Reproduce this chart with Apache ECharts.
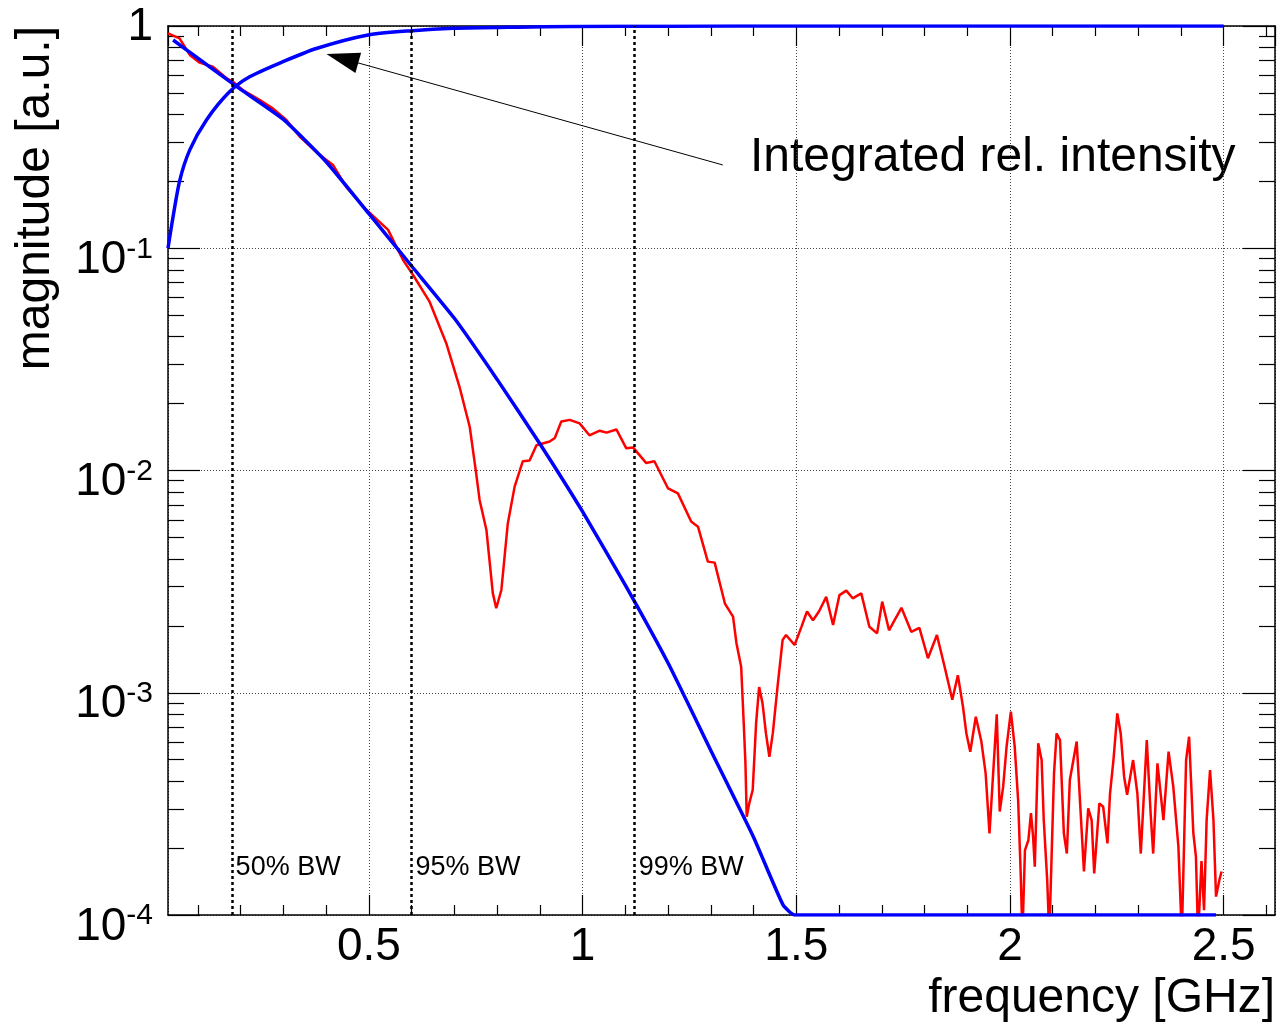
<!DOCTYPE html>
<html>
<head>
<meta charset="utf-8">
<script src="https://cdn.jsdelivr.net/npm/echarts@6/dist/echarts.min.js"></script>
<style>
  html, body { margin: 0; padding: 0; background: #fff; }
  #chart { width: 1280px; height: 1025px; }
</style>
</head>
<body>
<div id="chart"></div>
<script>
// measured spectrum [GHz, a.u.]
const spectrum = [
  [0.030,0.927],[0.057,0.880],[0.081,0.741],[0.104,0.684],[0.135,0.656],[0.167,0.582],[0.182,0.562],
  [0.205,0.515],[0.244,0.465],[0.276,0.425],[0.307,0.378],[0.338,0.318],[0.381,0.267],[0.416,0.237],
  [0.447,0.189],[0.494,0.149],[0.545,0.121],[0.564,0.102],[0.580,0.0885],[0.603,0.0760],[0.642,0.0575],
  [0.681,0.0374],[0.712,0.0238],[0.736,0.0157],[0.751,0.0097],[0.759,0.00737],[0.775,0.0054],[0.790,0.0028],
  [0.798,0.0024],[0.810,0.0029],[0.825,0.00578],[0.841,0.00846],[0.860,0.0110],[0.876,0.0111],[0.892,0.0130],
  [0.923,0.0135],[0.935,0.0140],[0.950,0.0166],[0.970,0.0169],[0.993,0.0163],[1.016,0.0144],[1.040,0.0151],
  [1.056,0.0148],[1.079,0.0153],[1.102,0.0126],[1.118,0.0127],[1.149,0.0108],[1.168,0.0110],[1.200,0.0083],
  [1.223,0.00789],[1.254,0.00589],[1.270,0.00559],[1.293,0.00389],[1.309,0.00385],[1.333,0.00252],
  [1.352,0.00220],[1.360,0.00167],[1.371,0.00131],[1.377,0.00073],[1.381,0.000481],[1.384,0.000277],
  [1.390,0.000318],[1.398,0.000365],[1.406,0.00073],[1.413,0.00106],[1.421,0.000896],[1.429,0.000656],
  [1.437,0.000515],[1.445,0.000656],[1.456,0.00106],[1.468,0.00173],[1.476,0.00182],[1.496,0.00164],
  [1.512,0.00198],[1.525,0.00232],[1.539,0.00212],[1.553,0.00232],[1.570,0.0027],[1.586,0.00202],
  [1.601,0.00275],[1.617,0.00288],[1.632,0.00266],[1.652,0.0028],[1.671,0.00198],[1.689,0.00185],
  [1.701,0.00257],[1.717,0.00191],[1.730,0.00212],[1.746,0.00241],[1.769,0.00188],[1.788,0.00196],
  [1.808,0.00143],[1.829,0.00182],[1.847,0.00131],[1.865,0.00093],[1.878,0.0012],[1.890,0.000865],
  [1.898,0.000656],[1.907,0.000543],[1.920,0.00078],[1.933,0.000603],[1.943,0.000434],[1.952,0.000233],
  [1.969,0.00080],[1.976,0.000292],[1.984,0.000378],[1.992,0.000572],[2.002,0.000822],[2.011,0.000572],
  [2.019,0.000329],[2.025,0.000154],[2.029,0.00008],[2.035,0.000196],[2.043,0.000217],[2.049,0.000287],
  [2.054,0.000225],[2.058,0.000165],[2.066,0.000592],[2.074,0.000498],[2.079,0.000267],[2.087,0.000144],
  [2.092,0.00008],[2.097,0.000175],[2.103,0.000434],[2.109,0.000656],[2.117,0.000612],[2.126,0.000233],
  [2.133,0.000189],[2.140,0.000405],[2.156,0.000603],[2.168,0.000233],[2.173,0.000157],[2.183,0.000302],
  [2.191,0.000267],[2.197,0.000154],[2.209,0.000318],[2.218,0.000307],[2.228,0.00021],[2.234,0.000352],
  [2.242,0.000498],[2.251,0.000807],[2.259,0.000656],[2.267,0.000419],[2.274,0.000347],[2.288,0.000498],
  [2.298,0.000352],[2.306,0.000189],[2.320,0.000612],[2.329,0.000287],[2.335,0.000189],[2.345,0.000481],
  [2.359,0.000267],[2.371,0.000543],[2.382,0.000378],[2.394,0.000203],[2.402,0.00008],[2.412,0.000498],
  [2.419,0.000634],[2.429,0.000233],[2.435,0.000183],[2.440,0.00008],[2.448,0.000175],[2.454,0.000105],
  [2.460,0.000267],[2.468,0.000449],[2.476,0.000267],[2.482,0.000121],[2.490,0.000144],[2.495,0.000157]
];

// fitted spectrum
const fit = [
  [0.042,0.865],[0.10,0.716],[0.20,0.519],[0.30,0.380],[0.40,0.245],[0.50,0.143],[0.60,0.0832],
  [0.70,0.0484],[0.80,0.0257],[0.90,0.0132],[1.00,0.00653],[1.10,0.00305],[1.20,0.00136],
  [1.30,0.00055],[1.40,0.000224],[1.469,0.000111],[1.496,0.0001],[2.482,0.0001]
];

// integrated relative intensity
const integrated = [
  [0.030,0.100],[0.038,0.125],[0.057,0.200],[0.081,0.277],[0.120,0.378],[0.174,0.506],[0.221,0.591],
  [0.299,0.691],[0.377,0.792],[0.498,0.911],[0.601,0.953],[0.697,0.976],[0.850,0.988],[0.970,0.994],
  [1.200,0.998],[1.500,1.0],[2.500,1.0]
];

// bandwidth markers
const bwFreq = [0.18, 0.601, 1.123];
const bwNames = ['50% BW', '95% BW', '99% BW'];

// axis ticks
const xMinorTicks = [0.1,0.2,0.3,0.4,0.6,0.7,0.8,0.9,1.1,1.2,1.3,1.4,1.6,1.7,1.8,1.9,2.1,2.2,2.3,2.4,2.6];
const yMantissas = [2,3,4,5,6,7,8,9];
const yDecades = [1e-4, 1e-3, 1e-2, 1e-1];
const yMinorTicks = [];
yDecades.forEach(d => yMantissas.forEach(m => yMinorTicks.push(+(m * d).toPrecision(3))));

const FONT = 'Liberation Sans, Arial, Helvetica, sans-serif';
const xMin = 0.03, xMax = 2.62;
const bwLabelLevel = 1.64e-4;
const arrowFrom = [1.328, 0.237];
const arrowTo = [0.438, 0.714];

const chart = echarts.init(document.getElementById('chart'), null, { renderer: 'canvas' });

const frame = { show: true, lineStyle: { color: '#000', width: 1.5 } };
const tickStyle = { color: '#000', width: 1.2 };
const dotted = { show: true, lineStyle: { color: '#444', width: 1, type: [1, 2] } };

function xAxisDef(position, major) {
  return {
    type: 'value', position, min: xMin, max: xMax,
    axisLine: major ? frame : { show: false },
    axisTick: major
      ? { show: true, inside: true, length: 20, lineStyle: tickStyle }
      : { show: true, inside: true, length: 10, lineStyle: tickStyle, customValues: xMinorTicks },
    axisLabel: { show: false },
    splitLine: { show: false }
  };
}
function yAxisDef(position, major) {
  return {
    type: 'log', logBase: 10, position, min: 1e-4, max: 1,
    axisLine: major ? frame : { show: false },
    axisTick: major
      ? { show: true, inside: true, length: 32, lineStyle: tickStyle }
      : { show: true, inside: true, length: 16, lineStyle: tickStyle, customValues: yMinorTicks },
    axisLabel: { show: false },
    splitLine: { show: false }
  };
}

const xBottom = xAxisDef('bottom', true);
xBottom.splitLine = dotted;
xBottom.axisLabel = {
  show: true, fontFamily: FONT, fontSize: 46, lineHeight: 46, color: '#000', margin: 9,
  showMinLabel: false, showMaxLabel: false
};

const yLeft = yAxisDef('left', true);
yLeft.splitLine = dotted;
yLeft.axisLabel = {
  show: true, margin: 15, color: '#000', showMinLabel: true, showMaxLabel: true,
  padding: [21, 0, 0, 0],
  formatter: v => {
    const e = Math.round(Math.log10(v));
    return e === 0 ? '{one|1}' : '{b|10}{s|' + e + '}';
  },
  rich: {
    one: { fontFamily: FONT, fontSize: 46, lineHeight: 65, verticalAlign: 'top', color: '#000' },
    b: { fontFamily: FONT, fontSize: 46, lineHeight: 49, verticalAlign: 'bottom', color: '#000' },
    s: { fontFamily: FONT, fontSize: 30, lineHeight: 30, verticalAlign: 'top', color: '#000' }
  }
};

const option = {
  animation: false,
  backgroundColor: '#fff',
  grid: { left: 168, top: 26, right: 5, bottom: 110, containLabel: false, outerBoundsMode: 'none' },
  xAxis: [xBottom, xAxisDef('bottom', false), xAxisDef('top', true), xAxisDef('top', false)],
  yAxis: [yLeft, yAxisDef('left', false), yAxisDef('right', true), yAxisDef('right', false)],
  graphic: [
    {
      type: 'text', x: 36, y: 26, rotation: Math.PI / 2,
      style: { text: 'magnitude [a.u.]', font: '48px ' + FONT, fill: '#000', align: 'right', verticalAlign: 'middle' }
    },
    {
      type: 'text', x: 1275, y: 999,
      style: { text: 'frequency [GHz]', font: '48px ' + FONT, fill: '#000', align: 'right', verticalAlign: 'middle' }
    },
    {
      type: 'text', x: 750, y: 158,
      style: { text: 'Integrated rel. intensity', font: '48px ' + FONT, fill: '#000', align: 'left', verticalAlign: 'middle' }
    }
  ],
  series: [
    {
      name: 'spectrum', type: 'line', data: spectrum, showSymbol: false,
      lineStyle: { color: '#ff0000', width: 2.5 }, z: 3
    },
    {
      name: 'fit', type: 'line', data: fit, showSymbol: false, smooth: 0.15,
      lineStyle: { color: '#0000ff', width: 3.5 }, z: 4
    },
    {
      name: 'integrated', type: 'line', data: integrated, showSymbol: false, smooth: 0.25,
      lineStyle: { color: '#0000ff', width: 3.5 }, z: 4,
      markLine: {
        silent: true, animation: false,
        symbol: ['none', 'triangle'], symbolSize: [21, 33],
        lineStyle: { color: '#000', width: 1, type: 'solid' },
        itemStyle: { color: '#000' },
        label: { show: false },
        data: [[{ coord: arrowFrom }, { coord: arrowTo }]]
      }
    },
    {
      name: 'bw', type: 'scatter', symbolSize: 1, itemStyle: { color: 'rgba(0,0,0,0)' },
      data: bwFreq.map(f => [f, bwLabelLevel]),
      label: {
        show: true, position: 'right', distance: 3,
        fontFamily: FONT, fontSize: 27, color: '#000', opacity: 1,
        formatter: p => bwNames[p.dataIndex]
      },
      markLine: {
        silent: true, animation: false, symbol: 'none',
        lineStyle: { color: '#000', width: 2.5, type: [3, 3] },
        label: { show: false },
        data: bwFreq.map(f => ({ xAxis: f }))
      },
      z: 2
    }
  ]
};

chart.setOption(option);
</script>
</body>
</html>
